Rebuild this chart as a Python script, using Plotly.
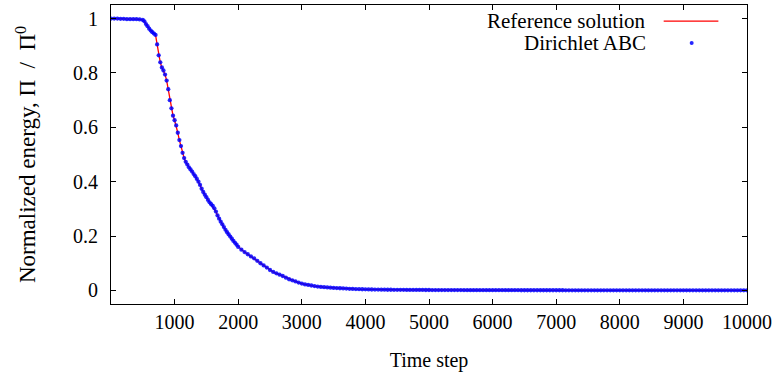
import plotly.graph_objects as go

# ---- data ----
time_step = [
    0, 50, 100, 150, 200, 250, 300, 350, 400, 450,
    500, 525, 550, 575, 600, 625, 650, 675, 700, 725,
    750, 775, 800, 825, 850, 875, 900, 925, 950, 975,
    1000, 1025, 1050, 1075, 1100, 1125, 1150, 1175, 1200, 1225,
    1250, 1275, 1300, 1325, 1350, 1375, 1400, 1425, 1450, 1475,
    1500, 1525, 1550, 1575, 1600, 1625, 1650, 1675, 1700, 1725,
    1750, 1775, 1800, 1825, 1850, 1875, 1900, 1925, 1950, 1975,
    2000, 2050, 2100, 2150, 2200, 2250, 2300, 2350, 2400, 2450,
    2500, 2550, 2600, 2650, 2700, 2750, 2800, 2850, 2900, 2950,
    3000, 3050, 3100, 3150, 3200, 3250, 3300, 3350, 3400, 3450,
    3500, 3550, 3600, 3650, 3700, 3750, 3800, 3850, 3900, 3950,
    4000, 4050, 4100, 4150, 4200, 4250, 4300, 4350, 4400, 4450,
    4500, 4550, 4600, 4650, 4700, 4750, 4800, 4850, 4900, 4950,
    5000, 5050, 5100, 5150, 5200, 5250, 5300, 5350, 5400, 5450,
    5500, 5550, 5600, 5650, 5700, 5750, 5800, 5850, 5900, 5950,
    6000, 6050, 6100, 6150, 6200, 6250, 6300, 6350, 6400, 6450,
    6500, 6550, 6600, 6650, 6700, 6750, 6800, 6850, 6900, 6950,
    7000, 7050, 7100, 7150, 7200, 7250, 7300, 7350, 7400, 7450,
    7500, 7550, 7600, 7650, 7700, 7750, 7800, 7850, 7900, 7950,
    8000, 8050, 8100, 8150, 8200, 8250, 8300, 8350, 8400, 8450,
    8500, 8550, 8600, 8650, 8700, 8750, 8800, 8850, 8900, 8950,
    9000, 9050, 9100, 9150, 9200, 9250, 9300, 9350, 9400, 9450,
    9500, 9550, 9600, 9650, 9700, 9750, 9800, 9850, 9900, 9950,
    10000,
]

energy_abc = [
    1.000, 1.000, 1.000, 0.999, 0.999, 0.998, 0.998, 0.998, 0.998, 0.997,
    0.995, 0.990, 0.980, 0.972, 0.963, 0.956, 0.950, 0.945, 0.940, 0.905,
    0.865, 0.839, 0.820, 0.809, 0.794, 0.772, 0.740, 0.700, 0.670, 0.643,
    0.626, 0.607, 0.580, 0.553, 0.531, 0.506, 0.487, 0.473, 0.463, 0.453,
    0.445, 0.437, 0.428, 0.420, 0.410, 0.400, 0.388, 0.374, 0.362, 0.352,
    0.343, 0.333, 0.324, 0.317, 0.311, 0.302, 0.290, 0.276, 0.264, 0.253,
    0.243, 0.233, 0.223, 0.214, 0.206, 0.198, 0.190, 0.182, 0.175, 0.168,
    0.160, 0.150, 0.141, 0.133, 0.125, 0.118, 0.109, 0.100, 0.092, 0.084,
    0.075, 0.068, 0.063, 0.058, 0.053, 0.047, 0.041, 0.037, 0.033, 0.029,
    0.025, 0.022, 0.020, 0.018, 0.016, 0.014, 0.013, 0.012, 0.011, 0.010,
    0.0090, 0.0085, 0.0080, 0.0072, 0.0066, 0.0060, 0.0055, 0.0050, 0.0046, 0.0042,
    0.0039, 0.0036, 0.0034, 0.0032, 0.0030, 0.0028, 0.0027, 0.0025, 0.0024, 0.0023,
    0.0022, 0.0021, 0.0020, 0.0019, 0.0018, 0.0018, 0.0017, 0.0016, 0.0016, 0.0015,
    0.0015, 0.0014, 0.0014, 0.0013, 0.0013, 0.0012, 0.0012, 0.0012, 0.0011, 0.0011,
    0.0011, 0.0010, 0.0010, 0.0010, 0.0010, 0.0009, 0.0009, 0.0009, 0.0009, 0.0008,
    0.0008, 0.0008, 0.0008, 0.0008, 0.0007, 0.0007, 0.0007, 0.0007, 0.0007, 0.0006,
    0.0006, 0.0006, 0.0006, 0.0006, 0.0006, 0.0005, 0.0005, 0.0005, 0.0005, 0.0005,
    0.0005, 0.0005, 0.0005, 0.0004, 0.0004, 0.0004, 0.0004, 0.0004, 0.0004, 0.0004,
    0.0004, 0.0004, 0.0003, 0.0003, 0.0003, 0.0003, 0.0003, 0.0003, 0.0003, 0.0003,
    0.0003, 0.0003, 0.0003, 0.0003, 0.0003, 0.0002, 0.0002, 0.0002, 0.0002, 0.0002,
    0.0002, 0.0002, 0.0002, 0.0002, 0.0002, 0.0002, 0.0002, 0.0002, 0.0002, 0.0002,
    0.0002, 0.0002, 0.0002, 0.0002, 0.0002, 0.0002, 0.0002, 0.0002, 0.0002, 0.0002,
    0.0002, 0.0002, 0.0002, 0.0002, 0.0002, 0.0002, 0.0002, 0.0002, 0.0002, 0.0002,
    0.0002,
]

energy_reference = list(energy_abc)

x_tick_values = [1000, 2000, 3000, 4000, 5000, 6000, 7000, 8000, 9000, 10000]
x_tick_labels = ["1000", "2000", "3000", "4000", "5000", "6000", "7000", "8000", "9000", "10000"]
y_tick_values = [0, 0.2, 0.4, 0.6, 0.8, 1.0]
y_tick_labels = ["0", "0.2", "0.4", "0.6", "0.8", "1"]

series_names = ["Reference solution", "Dirichlet ABC"]

FONT = "Liberation Serif, Times New Roman, serif"

fig = go.Figure()
fig.add_trace(go.Scatter(
    x=time_step, y=energy_reference, mode="lines", name=series_names[0],
    line=dict(color="#ff0000", width=1.3), showlegend=False,
))
fig.add_trace(go.Scatter(
    x=time_step, y=energy_abc, mode="markers", name=series_names[1],
    marker=dict(color="rgba(0,0,255,0.85)", size=4.3, line=dict(width=0)),
    showlegend=False,
))

axis_common = dict(
    showline=True, linecolor="black", linewidth=1, mirror="ticks",
    ticks="inside", ticklen=5, tickcolor="black", tickwidth=1,
    showgrid=False, zeroline=False,
    tickfont=dict(family=FONT, size=20, color="black"),
)

fig.update_xaxes(
    range=[0, 10000], tickvals=x_tick_values, ticktext=x_tick_labels,
    title=dict(text="Time step", font=dict(family=FONT, size=20, color="black"), standoff=20),
    **axis_common,
)
fig.update_yaxes(
    range=[-0.05, 1.05], tickvals=y_tick_values, ticktext=y_tick_labels,
    title=dict(text="Normalized energy, Π&nbsp;&nbsp;/&nbsp;&nbsp;Π<sup>0</sup>",
               font=dict(family=FONT, size=23, color="black"), standoff=30),
    ticklabelstandoff=8,
    **axis_common,
)

# gnuplot-style key (text on the left, sample on the right)
label_x = 0.845
row_y = [0.946, 0.873]
for name, yy in zip(series_names, row_y):
    fig.add_annotation(
        text=name, xref="paper", yref="paper", x=label_x, y=yy,
        xanchor="right", yanchor="middle", showarrow=False,
        font=dict(family=FONT, size=21, color="black"),
    )
fig.add_shape(type="line", xref="paper", yref="paper",
              x0=0.869, x1=0.955, y0=row_y[0], y1=row_y[0],
              line=dict(color="#ff0000", width=1.3))
fig.add_shape(type="circle", xref="paper", yref="paper",
              xsizemode="pixel", ysizemode="pixel",
              xanchor=0.913, yanchor=row_y[1],
              x0=-2, x1=2, y0=-2, y1=2,
              fillcolor="rgba(0,0,255,0.85)", line=dict(width=0))

fig.update_layout(
    width=779, height=377,
    margin=dict(l=111, r=32, t=5, b=73, autoexpand=False),
    paper_bgcolor="white", plot_bgcolor="white",
    font=dict(family=FONT, color="black"),
)

fig.write_html("out.html", config={"displayModeBar": False},
               post_script="document.body.style.margin='0px';")
